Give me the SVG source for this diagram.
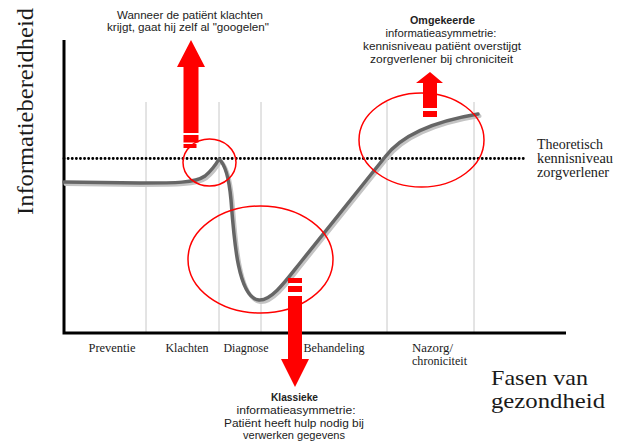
<svg xmlns="http://www.w3.org/2000/svg" width="625" height="444" viewBox="0 0 625 444">
<style>
.serif{font-family:"Liberation Serif","Times New Roman",serif;fill:#1a1a1a}
.comic{font-family:"Liberation Sans",Arial,sans-serif;font-size:10.5px;fill:#222;text-anchor:middle}
.bold{font-weight:bold}
.grid{stroke:#c8c8c8;stroke-width:1}
.axis{stroke:#000;stroke-width:3;fill:none}
.ring{fill:none;stroke:#ff0000;stroke-width:1.5}
.arrow{fill:#ff0000}
.tick{font-size:12px;text-anchor:middle}
</style>
<rect width="625" height="444" fill="#fff"/>
<g id="grid">
<line class="grid" x1="146" y1="102" x2="146" y2="332"/>
<line class="grid" x1="219" y1="102" x2="219" y2="332"/>
<line class="grid" x1="261" y1="102" x2="261" y2="332"/>
<line class="grid" x1="387" y1="102" x2="387" y2="332"/>
<line class="grid" x1="474" y1="102" x2="474" y2="332"/>
</g>
<g id="axes">
<path class="axis" d="M64,40 V333 H566"/>
<text class="serif" font-size="24" transform="translate(33,215) rotate(-90)" textLength="207" lengthAdjust="spacingAndGlyphs">Informatiebereidheid</text>
<text class="serif" font-size="21" x="491" y="385" textLength="97" lengthAdjust="spacingAndGlyphs">Fasen van</text>
<text class="serif" font-size="21" x="491" y="408" textLength="114" lengthAdjust="spacingAndGlyphs">gezondheid</text>
</g>
<g id="phases" class="serif">
<text class="tick" x="112" y="352" textLength="47" lengthAdjust="spacingAndGlyphs">Preventie</text>
<text class="tick" x="187" y="352" textLength="43" lengthAdjust="spacingAndGlyphs">Klachten</text>
<text class="tick" x="246" y="352" textLength="45" lengthAdjust="spacingAndGlyphs">Diagnose</text>
<text class="tick" x="334" y="352" textLength="61" lengthAdjust="spacingAndGlyphs">Behandeling</text>
<text font-size="12" x="412" y="352" textLength="41" lengthAdjust="spacingAndGlyphs">Nazorg/</text>
<text font-size="12" x="412" y="365" textLength="55" lengthAdjust="spacingAndGlyphs">chroniciteit</text>
</g>
<g id="theoretisch">
<line x1="64" y1="158.5" x2="527" y2="158.5" stroke="#000" stroke-width="2.8" stroke-linecap="round" stroke-dasharray="0.1 4"/>
<text class="serif" font-size="14" x="537" y="149" textLength="66" lengthAdjust="spacingAndGlyphs">Theoretisch</text>
<text class="serif" font-size="14" x="537" y="163" textLength="76" lengthAdjust="spacingAndGlyphs">kennisniveau</text>
<text class="serif" font-size="14" x="537" y="177" textLength="72" lengthAdjust="spacingAndGlyphs">zorgverlener</text>
</g>
<g id="curve" fill="none" stroke-linecap="round" stroke-linejoin="round">
<path transform="translate(1.5,2)" stroke="#c4c4c4" stroke-width="4" d="M64,182 L140,183 C175,183 195,183 205,176 C211,171 215,166 219,159 C225,164 229,178 231,200 C234,240 238,298 259,300 C272,301 288,278 300,263 L385,157 C400,137 430,122 478,114"/>
<path stroke="#666" stroke-width="3.5" d="M64,182 L140,183 C175,183 195,183 205,176 C211,171 215,166 219,159 C225,164 229,178 231,200 C234,240 238,298 259,300 C272,301 288,278 300,263 L385,157 C400,137 430,122 478,114"/>
</g>
<g id="ring-klachten"><ellipse class="ring" cx="209.5" cy="162.5" rx="26.5" ry="23.5"/></g>
<g id="ring-klassiek"><ellipse class="ring" cx="260.5" cy="259.5" rx="72.5" ry="53.5"/></g>
<g id="ring-omgekeerd"><ellipse class="ring" cx="421.5" cy="140" rx="62.5" ry="47"/></g>
<g id="connectors">
<path class="arrow" d="M191,40 L205,67 L198.5,67 L198.5,133 L183.5,133 L183.5,67 L177,67 Z"/>
<rect class="arrow" x="183.5" y="135" width="15" height="7.5"/>
<rect class="arrow" x="183.5" y="144" width="13" height="4"/>
<rect class="arrow" x="288" y="278" width="14" height="5"/>
<rect class="arrow" x="288" y="286" width="14" height="6"/>
<path class="arrow" d="M288,296 L302,296 L302,359 L309,359 L295,387 L281,359 L288,359 Z"/>
<path class="arrow" d="M430,72 L443,83 L437,83 L437,108 L423,108 L423,83 L416,83 Z"/>
<rect class="arrow" x="423" y="111" width="14" height="6"/>
</g>
<g id="label-klachten" class="comic">
<text x="190" y="19" textLength="146" lengthAdjust="spacingAndGlyphs">Wanneer de patiënt klachten</text>
<text x="188" y="31" textLength="162" lengthAdjust="spacingAndGlyphs">krijgt, gaat hij zelf al "googelen"</text>
</g>
<g id="label-omgekeerd" class="comic">
<text class="bold" x="442.5" y="24" textLength="65" lengthAdjust="spacingAndGlyphs">Omgekeerde</text>
<text x="441" y="37" textLength="111" lengthAdjust="spacingAndGlyphs">informatieasymmetrie:</text>
<text x="442" y="50" textLength="158" lengthAdjust="spacingAndGlyphs">kennisniveau patiënt overstijgt</text>
<text x="441.5" y="63" textLength="143" lengthAdjust="spacingAndGlyphs">zorgverlener bij chroniciteit</text>
</g>
<g id="label-klassiek" class="comic">
<text class="bold" x="294.5" y="401" textLength="47" lengthAdjust="spacingAndGlyphs">Klassieke</text>
<text x="296" y="414" textLength="119" lengthAdjust="spacingAndGlyphs">informatieasymmetrie:</text>
<text x="294" y="427" textLength="140" lengthAdjust="spacingAndGlyphs">Patiënt heeft hulp nodig bij</text>
<text x="294" y="439" textLength="102" lengthAdjust="spacingAndGlyphs">verwerken gegevens</text>
</g>
</svg>
